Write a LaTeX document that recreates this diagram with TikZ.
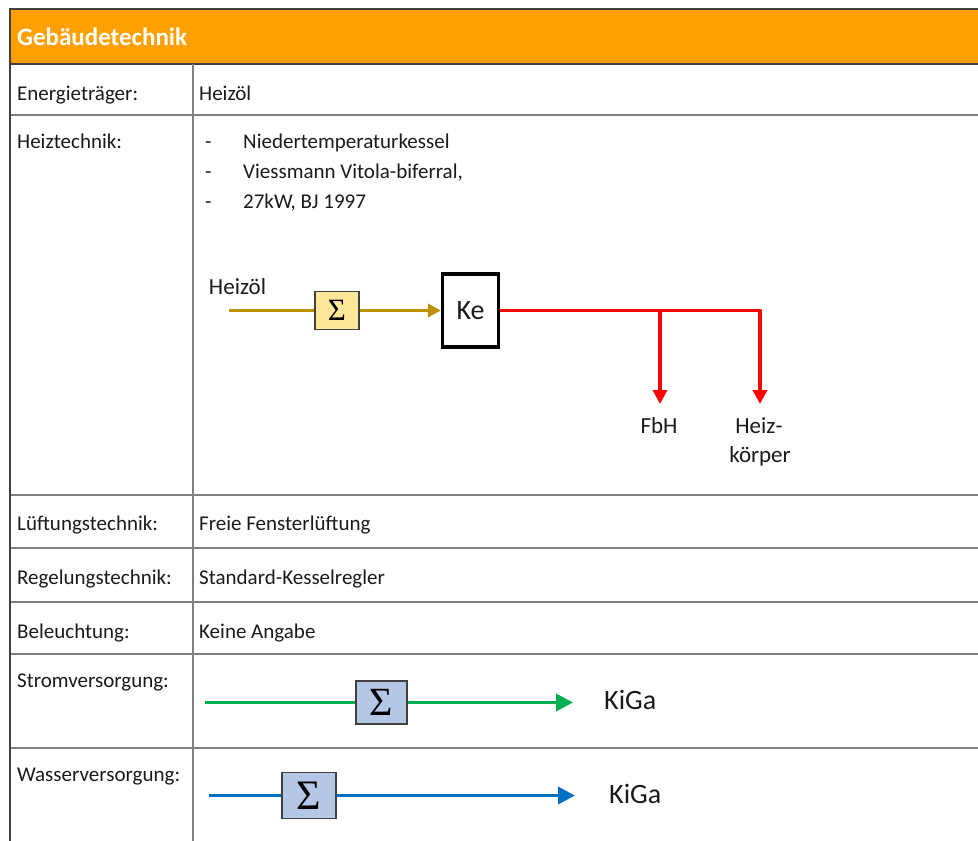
\documentclass[tikz,border=0pt]{standalone}
\usepackage{fontspec}
\setmainfont{Carlito}
\newfontfamily\sigmafont{Liberation Serif}
\usetikzlibrary{arrows.meta}

\definecolor{headorange}{HTML}{FFA000}
\definecolor{rulegray}{HTML}{808080}
\definecolor{framedark}{HTML}{404040}
\definecolor{textdark}{HTML}{1A1A1A}
\definecolor{oilgold}{HTML}{BF9000}
\definecolor{oilfill}{HTML}{FFE699}
\definecolor{sumblue}{HTML}{B4C7E7}
\definecolor{powergreen}{HTML}{00B050}
\definecolor{waterblue}{HTML}{0070C0}
\definecolor{heatred}{HTML}{FF0000}

\begin{document}
\begin{tikzpicture}[x=1pt,y=-1pt,
  cell/.style={anchor=base west, inner sep=0pt, text=textdark,
    font=\fontsize{21}{24}\selectfont},
  dlabel/.style={anchor=base, inner sep=0pt, text=textdark,
    font=\fontsize{23}{26}\selectfont},
  rowrule/.style={draw=rulegray, line width=1.8pt},
  sumbox/.style={draw=framedark, line width=1.4pt, inner sep=0pt,
    font=\sigmafont\fontsize{#1}{#1}\selectfont},
  flow/.style={line width=3.6pt},
  tip/.style={-{Triangle[length=#1,width=#1]}}
]
\useasboundingbox (0,0) rectangle (978,841);

% header band
\fill[headorange] (10,9) rectangle (978,64);
\node[anchor=base west, inner sep=0pt, text=white,
  font=\bfseries\fontsize{25}{30}\selectfont] (title) at (17,45) {Gebäudetechnik};

% table rules
\foreach \yy in {115,495,548,602,654,748}
  \draw[rowrule] (10,\yy) -- (978,\yy);
\draw[draw=framedark, line width=2pt] (10,9) -- (978,9);
\draw[draw=framedark, line width=2pt] (10,64) -- (978,64);
\draw[rowrule] (193,64) -- (193,841);
\draw[draw=framedark, line width=2pt] (10,8) -- (10,841);

% left column
\node[cell] (l1) at (17,100) {Energieträger:};
\node[cell] (l2) at (17,148) {Heiztechnik:};
\node[cell] (l3) at (17,530) {Lüftungstechnik:};
\node[cell] (l4) at (17,584) {Regelungstechnik:};
\node[cell] (l5) at (17,638) {Beleuchtung:};
\node[cell] (l6) at (17,687) {Stromversorgung:};
\node[cell] (l7) at (17,781) {Wasserversorgung:};

% right column
\node[cell] (r1) at (199,100) {Heizöl};
\node[cell] (d1) at (205,148) {-};
\node[cell] (b1) at (243,148) {Niedertemperaturkessel};
\node[cell] (d2) at (205,178) {-};
\node[cell] (b2) at (243,178) {Viessmann Vitola-biferral,};
\node[cell] (d3) at (205,208) {-};
\node[cell] (b3) at (243,208) {27kW, BJ 1997};
\node[cell] (r3) at (199,530) {Freie Fensterlüftung};
\node[cell] (r4) at (199,584) {Standard-Kesselregler};
\node[cell] (r5) at (199,638) {Keine Angabe};

% heating scheme
\node[dlabel] (oil) at (237.5,294) {Heizöl};
\coordinate (oilin) at (229,310.5);
\node[sumbox=31, fill=oilfill, minimum width=44pt, minimum height=38pt] (s1) at (337,310.5) {Σ};
\node[draw=black, line width=3.2pt, minimum width=56pt, minimum height=73pt, inner sep=0pt,
  font=\fontsize{28}{30}\selectfont, text=textdark] (ke) at (470.5,310.5) {Ke};
\draw[oilgold, flow] (oilin) -- (s1.west);
\draw[oilgold, flow, tip=13pt] (s1.east) -- (ke.west);

\coordinate (j1) at (660,310.5);
\coordinate (j2) at (760,310.5);
\coordinate (fbhin) at (660,404);
\coordinate (hkin) at (760,404);
\draw[heatred, flow, tip=14pt, line join=round] (ke.east) -- (j2) -- (hkin);
\draw[heatred, flow, tip=14pt] (j1) -- (fbhin);
\node[dlabel] (fbh) at (659,433) {FbH};
\node[dlabel] (hk1) at (759,433) {Heiz-};
\node[dlabel] (hk2) at (760,462) {körper};

% power supply
\coordinate (pin) at (205,702.5);
\node[sumbox=40, fill=sumblue, minimum width=51pt, minimum height=43pt] (s2) at (381.5,702.5) {Σ};
\coordinate (pout) at (573,702.5);
\draw[powergreen, flow] (pin) -- (s2.west);
\draw[powergreen, flow, tip=17pt] (s2.east) -- (pout);
\node[anchor=base west, inner sep=0pt, text=textdark,
  font=\fontsize{28}{30}\selectfont] (kiga1) at (604,709) {KiGa};

% water supply
\coordinate (win) at (209,795.5);
\node[sumbox=42, fill=sumblue, minimum width=54pt, minimum height=46pt] (s3) at (309,795.5) {Σ};
\coordinate (wout) at (575,795.5);
\draw[waterblue, flow] (win) -- (s3.west);
\draw[waterblue, flow, tip=17pt] (s3.east) -- (wout);
\node[anchor=base west, inner sep=0pt, text=textdark,
  font=\fontsize{28}{30}\selectfont] (kiga2) at (609,803) {KiGa};
\end{tikzpicture}
\end{document}
